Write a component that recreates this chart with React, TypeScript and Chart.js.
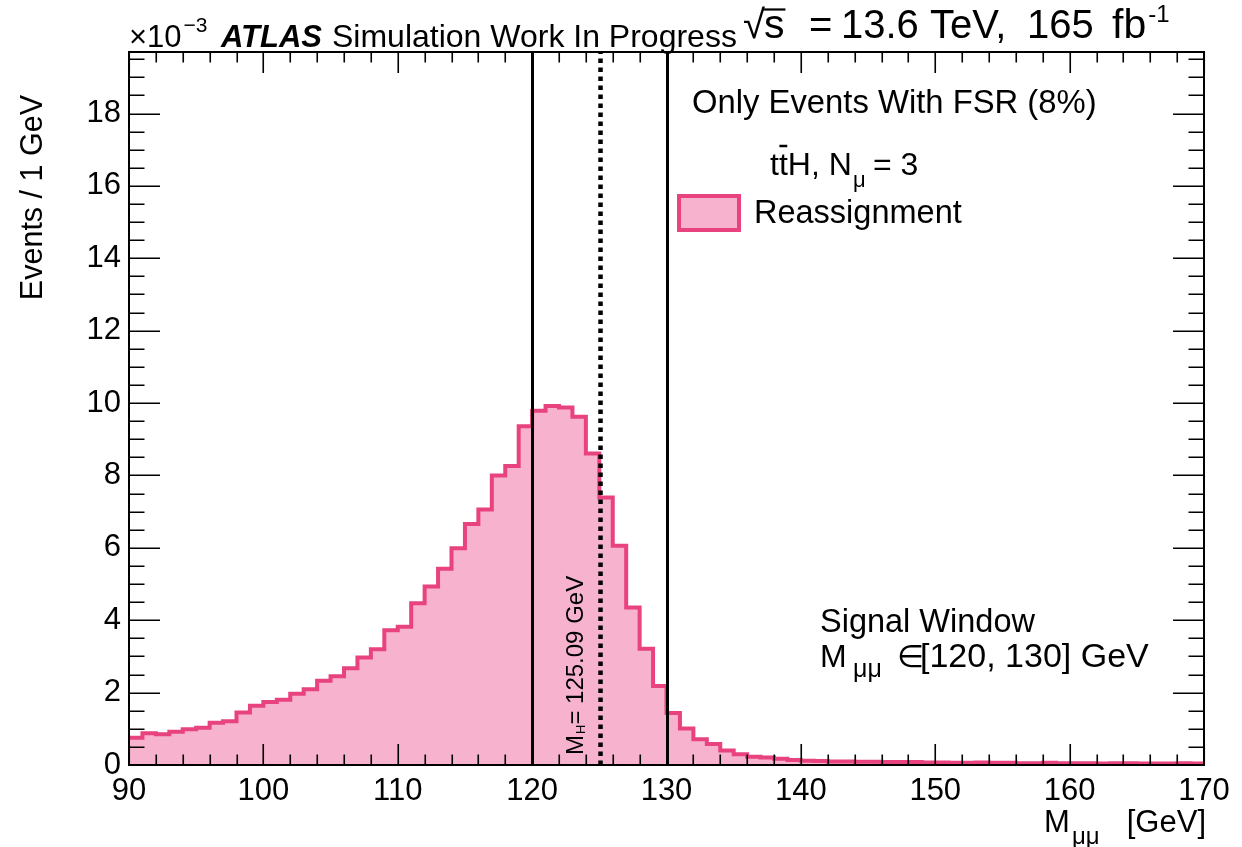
import React, { useEffect, useRef } from "react";
import { Chart, registerables } from "chart.js";

Chart.register(...registerables);

// Histogram: M_mumu from 90 to 170 GeV, 1 GeV bins, values in units of 10^-3 events / GeV
const BIN_START = 90;
const BIN_WIDTH = 1;
const reassignmentCounts = [
  0.75, 0.875, 0.85, 0.92, 0.985, 1.03, 1.17, 1.21, 1.45, 1.64, // 90-99
  1.74, 1.8, 1.97, 2.09, 2.33, 2.45, 2.67, 2.97, 3.2, 3.72, // 100-109
  3.82, 4.47, 4.93, 5.42, 5.99, 6.66, 7.06, 8.0, 8.26, 9.36, // 110-119
  9.79, 9.92, 9.88, 9.62, 8.61, 7.39, 6.06, 4.35, 3.21, 2.18, // 120-129
  1.44, 1.01, 0.71, 0.58, 0.4, 0.3, 0.23, 0.21, 0.17, 0.14, // 130-139
  0.12, 0.11, 0.1, 0.1, 0.09, 0.09, 0.08, 0.08, 0.08, 0.07, // 140-149
  0.07, 0.06, 0.06, 0.07, 0.06, 0.06, 0.05, 0.05, 0.06, 0.05, // 150-159
  0.05, 0.05, 0.04, 0.05, 0.05, 0.04, 0.04, 0.04, 0.05, 0.04, // 160-169
];

const xTickLabels = [90, 100, 110, 120, 130, 140, 150, 160, 170];
const yTickLabels = [0, 2, 4, 6, 8, 10, 12, 14, 16, 18];
const X_MIN = 90;
const X_MAX = 170;
const Y_MIN = 0;
const Y_MAX = 19.7;
const X_MINOR_STEP = 2;
const Y_MINOR_STEP = 0.5;
const signalWindow = [120, 130];
const higgsMass = 125.09;

const FONT = '"Liberation Sans", Arial, Helvetica, sans-serif';
const PINK_LINE = "#e8437f";
const PINK_FILL = "#f7b3ce";

function font(size: number, style = "") {
  return `${style} ${size}px ${FONT}`.trim();
}

const overlayPlugin = {
  id: "atlasOverlay",
  afterDatasetsDraw(chart: any) {
    const { ctx, chartArea: a, scales } = chart;
    const x = scales.x;
    const y = scales.y;
    ctx.save();

    // signal window lines
    ctx.strokeStyle = "#000";
    ctx.lineWidth = 3;
    for (const v of signalWindow) {
      const px = Math.round(x.getPixelForValue(v)) + 0.5;
      ctx.beginPath();
      ctx.moveTo(px, y.getPixelForValue(0));
      ctx.lineTo(px, a.top);
      ctx.stroke();
    }
    // Higgs mass dashed line
    ctx.lineWidth = 4.5;
    ctx.setLineDash([4.5, 4.5]);
    const hx = x.getPixelForValue(higgsMass);
    ctx.beginPath();
    ctx.moveTo(hx, y.getPixelForValue(0));
    ctx.lineTo(hx, a.top);
    ctx.stroke();
    ctx.setLineDash([]);

    // ticks (ROOT style, inside the frame, on all four sides)
    ctx.lineWidth = 1.6;
    ctx.strokeStyle = "#000";
    const xMajorLen = 21;
    const xMinorLen = 10.5;
    const yMajorLen = 31;
    const yMinorLen = 15.5;
    ctx.beginPath();
    for (let v = X_MIN; v <= X_MAX + 1e-9; v += X_MINOR_STEP) {
      const px = Math.round(x.getPixelForValue(v)) + 0.25;
      const major = xTickLabels.includes(v);
      const len = major ? xMajorLen : xMinorLen;
      ctx.moveTo(px, a.bottom);
      ctx.lineTo(px, a.bottom - len);
      ctx.moveTo(px, a.top);
      ctx.lineTo(px, a.top + len);
    }
    for (let v = Y_MIN; v <= Y_MAX + 1e-9; v += Y_MINOR_STEP) {
      const py = Math.round(y.getPixelForValue(v)) + 0.25;
      const major = Math.abs(v - Math.round(v / 2) * 2) < 1e-9;
      const len = major ? yMajorLen : yMinorLen;
      ctx.moveTo(a.left, py);
      ctx.lineTo(a.left + len, py);
      ctx.moveTo(a.right, py);
      ctx.lineTo(a.right - len, py);
    }
    ctx.stroke();

    // frame
    ctx.lineWidth = 2;
    ctx.strokeRect(a.left, a.top, a.right - a.left, a.bottom - a.top);
    ctx.restore();
  },
  afterDraw(chart: any) {
    const { ctx } = chart;
    ctx.save();
    ctx.fillStyle = "#000";
    ctx.textBaseline = "alphabetic";
    ctx.textAlign = "left";

    const t = (s: string, px: number, py: number, size: number, style = "") => {
      ctx.font = font(size, style);
      ctx.fillText(s, px, py);
      return ctx.measureText(s).width;
    };

    // header left
    let cx = 129;
    cx += t("\u00d710", cx, 47, 31);
    t("\u22123", cx + 2, 32, 21);
    t("ATLAS", 221, 47, 31, "italic bold");
    t("Simulation Work In Progress", 332, 47, 32);

    // header right: sqrt(s) = 13.6 TeV, 165 fb^-1
    const rs = 40;
    const bl = 38;
    const wRoot = t("\u221a", 743, bl, rs);
    const sx = 743 + wRoot - 1;
    const ws = t("s", sx, bl, 41);
    ctx.lineWidth = 2.2;
    ctx.beginPath();
    ctx.moveTo(sx - 1, 9.5);
    ctx.lineTo(sx + ws + 1, 9.5);
    ctx.stroke();
    t("=", 809, bl, rs);
    t("13.6", 841, bl, rs);
    t("TeV,", 930, bl, rs);
    t("165", 1027, bl, rs);
    const wfb = t("fb", 1112, bl, 41);
    t("-1", 1112 + wfb + 2, 22, 24);

    // right-side annotations
    t("Only Events With FSR (8%)", 692, 113, 32.8);
    const nx = 770;
    const wt = t("t", nx, 175, 32);
    const wt2 = t("t", nx + wt, 175, 32);
    ctx.lineWidth = 2.5;
    ctx.beginPath();
    ctx.moveTo(nx + wt + 0.5, 146);
    ctx.lineTo(nx + wt + wt2 - 0.5, 146);
    ctx.stroke();
    t("H, N", nx + wt + wt2, 175, 32);
    t("\u03bc", 853, 187, 22);
    t("= 3", 873, 175, 32);

    // legend
    ctx.fillStyle = PINK_FILL;
    ctx.fillRect(679, 196, 60, 34);
    ctx.strokeStyle = PINK_LINE;
    ctx.lineWidth = 4;
    ctx.strokeRect(679, 196, 60, 34);
    ctx.fillStyle = "#000";
    t("Reassignment", 754, 223, 32.5);

    // signal window note
    t("Signal Window", 820, 632, 32.5);
    t("M", 820, 667, 32);
    t("\u03bc\u03bc", 853, 677, 25);
    t("\u2208", 897, 667, 31);
    t("[120, 130] GeV", 920, 667, 34);

    // Higgs mass label (rotated)
    ctx.save();
    ctx.translate(583, 755);
    ctx.rotate(-Math.PI / 2);
    let hx = 0;
    hx += t("M", hx, 0, 24);
    hx += t("H", hx + 1, 2, 13) + 1;
    t("= 125.09 GeV", hx, 0, 24);
    ctx.restore();

    // y-axis title
    ctx.save();
    ctx.translate(42, 95);
    ctx.rotate(-Math.PI / 2);
    ctx.textAlign = "right";
    ctx.font = font(30.5);
    ctx.fillText("Events / 1 GeV", 0, 0);
    ctx.restore();

    // x-axis title
    ctx.textAlign = "left";
    t("M", 1044, 832, 31);
    t("\u03bc\u03bc", 1072, 844, 24);
    ctx.textAlign = "right";
    ctx.font = font(31);
    ctx.fillText("[GeV]", 1206, 832);

    ctx.restore();
  },
};

export default function App() {
  const canvasRef = useRef<HTMLCanvasElement | null>(null);

  useEffect(() => {
    const canvas = canvasRef.current;
    if (!canvas) return;
    const points = reassignmentCounts.map((v, i) => ({ x: BIN_START + i * BIN_WIDTH, y: v }));
    points.push({
      x: BIN_START + reassignmentCounts.length * BIN_WIDTH,
      y: reassignmentCounts[reassignmentCounts.length - 1],
    });

    const chart = new Chart(canvas, {
      type: "line",
      data: {
        datasets: [
          {
            label: "Reassignment",
            data: points,
            stepped: "before",
            borderColor: PINK_LINE,
            backgroundColor: PINK_FILL,
            borderWidth: 4,
            fill: "origin",
            pointRadius: 0,
            tension: 0,
          },
        ],
      },
      options: {
        responsive: false,
        animation: false,
        devicePixelRatio: 1,
        layout: { padding: { left: 0, right: 38, top: 52, bottom: 0 } },
        plugins: {
          legend: { display: false },
          tooltip: { enabled: false },
        },
        scales: {
          x: {
            type: "linear",
            min: X_MIN,
            max: X_MAX,
            grid: { display: false, drawTicks: false },
            border: { display: false },
            afterBuildTicks: (s: any) => {
              s.ticks = xTickLabels.map((v) => ({ value: v }));
            },
            afterFit: (s: any) => {
              s.height = 82;
            },
            ticks: {
              autoSkip: false,
              maxRotation: 0,
              color: "#000",
              padding: 8,
              font: { family: FONT, size: 31 },
              callback: (v: any) => String(v),
            },
          },
          y: {
            type: "linear",
            min: Y_MIN,
            max: Y_MAX,
            grid: { display: false, drawTicks: false },
            border: { display: false },
            afterBuildTicks: (s: any) => {
              s.ticks = yTickLabels.map((v) => ({ value: v }));
            },
            afterFit: (s: any) => {
              s.width = 129;
            },
            ticks: {
              autoSkip: false,
              color: "#000",
              padding: 8,
              font: { family: FONT, size: 31 },
              callback: (v: any) => String(v),
            },
          },
        },
      },
      plugins: [overlayPlugin],
    });
    return () => chart.destroy();
  }, []);

  return (
    <div style={{ position: "absolute", left: 0, top: 0, width: 1242, height: 847, background: "#fff" }}>
      <canvas ref={canvasRef} width={1242} height={847} style={{ display: "block" }} />
    </div>
  );
}
